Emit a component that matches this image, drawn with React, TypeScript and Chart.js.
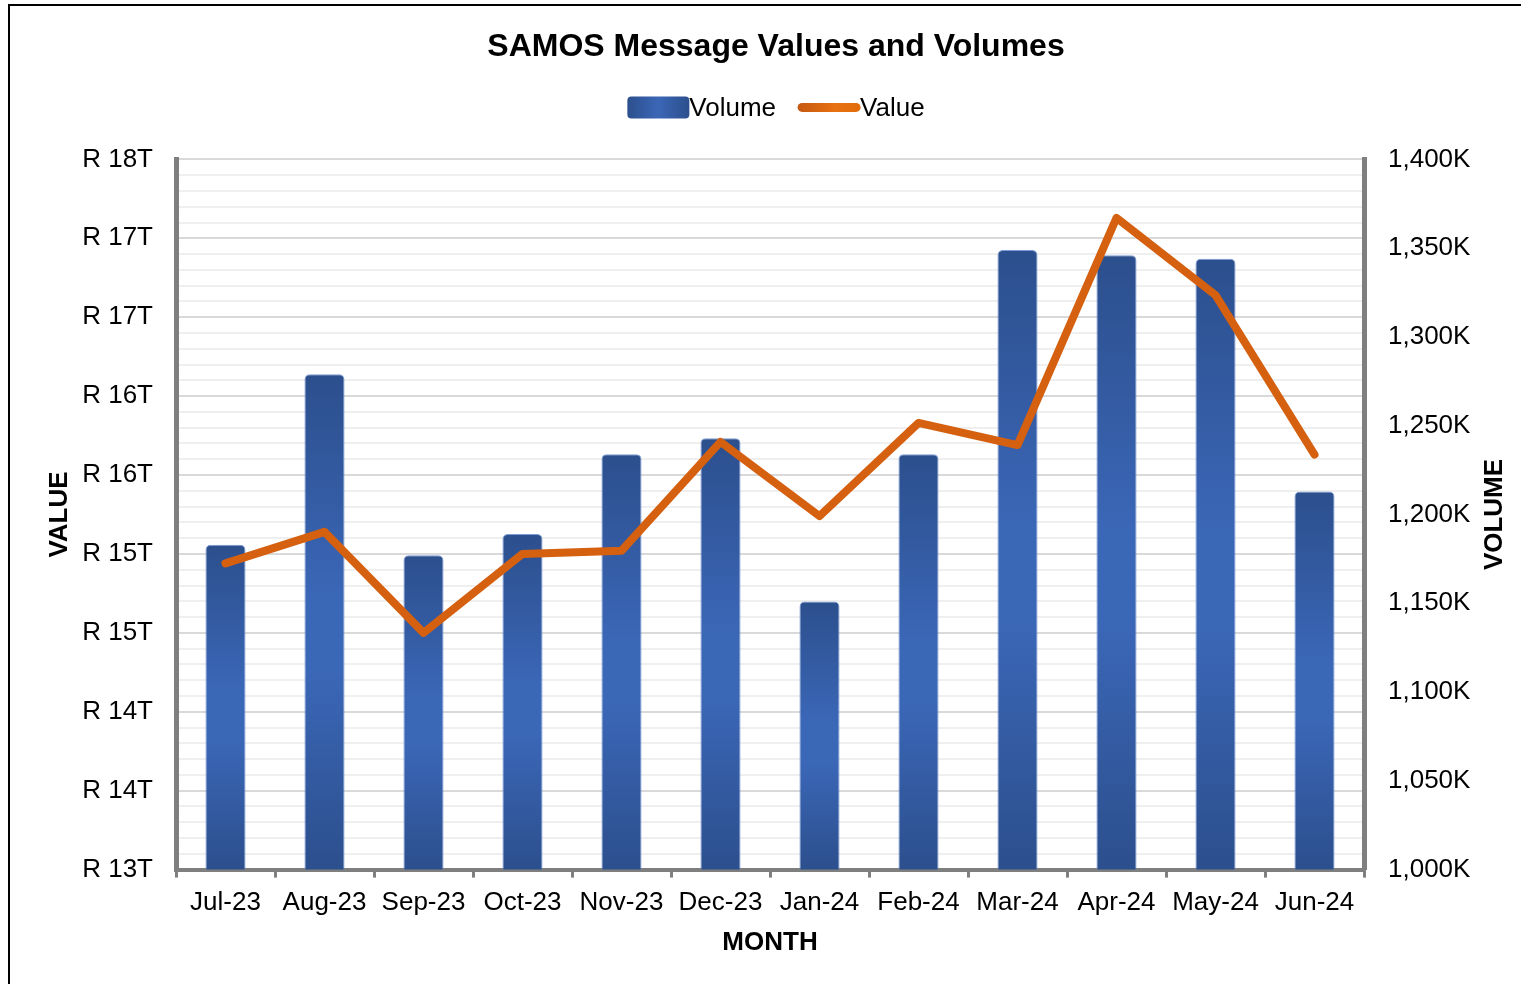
import React, { useEffect, useRef } from 'react';
import { Chart, registerables } from 'chart.js';

Chart.register(...registerables);

const FONT = "'Liberation Sans', Arial, Helvetica, sans-serif";

const months = ['Jul-23', 'Aug-23', 'Sep-23', 'Oct-23', 'Nov-23', 'Dec-23', 'Jan-24', 'Feb-24', 'Mar-24', 'Apr-24', 'May-24', 'Jun-24'];
// Volume in thousands of messages (right axis)
const volumeK = [1183, 1279, 1177, 1189, 1234, 1243, 1151, 1234, 1349, 1346, 1344, 1213];
// Value in trillions of Rand (left axis)
const valueT = [14.94, 15.14, 14.5, 15.0, 15.02, 15.71, 15.24, 15.83, 15.69, 17.13, 16.64, 15.63];

const valueMin = 13;
const valueMax = 17.5;
const valueStep = 0.5;
const volumeMin = 1000;
const volumeMax = 1400;
const volumeStep = 50;

const BLUE_DARK = '#2c4f8d';
const BLUE_LIGHT = '#3b67b7';

const framePlugin = {
  id: 'frame',
  beforeDraw(chart: any) {
    const c = chart.ctx;
    c.save();
    c.fillStyle = '#ffffff';
    c.fillRect(0, 0, chart.width, chart.height);
    c.strokeStyle = '#000000';
    c.lineWidth = 2;
    c.strokeRect(9, 5, chart.width + 40, chart.height + 40);
    c.restore();
  },
};

const extrasPlugin = {
  id: 'extras',
  afterDraw(chart: any) {
    const c = chart.ctx;
    const area = chart.chartArea;
    const yR = chart.scales.yR;
    c.save();
    // right axis title, reading bottom-to-top
    c.font = `bold 26px ${FONT}`;
    c.fillStyle = '#000';
    c.textAlign = 'center';
    c.textBaseline = 'middle';
    c.translate(yR.right - 17, (area.top + area.bottom) / 2);
    c.rotate(-Math.PI / 2);
    c.fillText('VOLUME', 0, 0);
    c.restore();

    // custom legend
    c.save();
    c.font = `26px ${FONT}`;
    c.textBaseline = 'middle';
    c.textAlign = 'left';
    const boxW = 62;
    const gap = 22;
    const wVol = c.measureText('Volume').width;
    const wVal = c.measureText('Value').width;
    const total = boxW + wVol + gap + boxW + wVal;
    const tb = chart.titleBlock;
    const cx = (tb.left + tb.right) / 2;
    const cy = area.top - 52;
    let x = cx - total / 2;
    // blue box
    const g1 = c.createLinearGradient(x, 0, x + boxW, 0);
    g1.addColorStop(0, BLUE_DARK);
    g1.addColorStop(0.5, BLUE_LIGHT);
    g1.addColorStop(1, BLUE_DARK);
    c.fillStyle = g1;
    c.beginPath();
    (c as any).roundRect(x, cy - 11, boxW, 22, 4);
    c.fill();
    x += boxW;
    c.fillStyle = '#000';
    c.fillText('Volume', x, cy + 1);
    x += wVol + gap;
    // orange line
    const g2 = c.createLinearGradient(x, 0, x + boxW, 0);
    g2.addColorStop(0, '#c55a11');
    g2.addColorStop(0.6, '#e8700f');
    g2.addColorStop(1, '#e36c0a');
    c.strokeStyle = g2;
    c.lineWidth = 9;
    c.lineCap = 'round';
    c.beginPath();
    c.moveTo(x + 4, cy);
    c.lineTo(x + boxW - 4, cy);
    c.stroke();
    x += boxW;
    c.fillStyle = '#000';
    c.fillText('Value', x, cy + 1);
    c.restore();
  },
};

function barGradient(ctx: any) {
  const chart = ctx.chart;
  const yR = chart.scales?.yR;
  if (!yR || ctx.raw === undefined) return BLUE_LIGHT;
  const top = yR.getPixelForValue(ctx.raw);
  const bottom = yR.getPixelForValue(volumeMin);
  if (!isFinite(top) || !isFinite(bottom) || bottom - top < 1) return BLUE_LIGHT;
  const g = chart.ctx.createLinearGradient(0, top, 0, bottom);
  g.addColorStop(0, BLUE_DARK);
  g.addColorStop(0.45, BLUE_LIGHT);
  g.addColorStop(0.6, BLUE_LIGHT);
  g.addColorStop(1, BLUE_DARK);
  return g;
}

export default function App() {
  const ref = useRef<HTMLCanvasElement | null>(null);

  useEffect(() => {
    document.body.style.margin = '0';
    document.body.style.overflow = 'hidden';
    if (!ref.current) return;
    const chart = new Chart(ref.current, {
      type: 'bar',
      data: {
        labels: months,
        datasets: [
          {
            type: 'line',
            label: 'Value',
            data: valueT,
            yAxisID: 'yL',
            borderColor: '#d5600f',
            borderWidth: 8,
            borderJoinStyle: 'round',
            borderCapStyle: 'round',
            pointRadius: 0,
            tension: 0,
            order: 0,
          } as any,
          {
            type: 'bar',
            label: 'Volume',
            data: volumeK,
            yAxisID: 'yR',
            backgroundColor: barGradient,
            borderColor: 'rgba(110,145,210,0.9)',
            borderWidth: 1,
            borderRadius: 5,
            barPercentage: 0.405,
            categoryPercentage: 1,
            order: 1,
          } as any,
        ],
      },
      options: {
        responsive: false,
        animation: false,
        layout: { padding: { left: 40, right: 9, top: 0, bottom: 10 } },
        plugins: {
          legend: { display: false },
          tooltip: { enabled: false },
          title: {
            display: true,
            text: 'SAMOS Message Values and Volumes',
            color: '#000',
            font: { family: FONT, size: 32, weight: 'bold' },
            padding: { top: 28, bottom: 93 },
          },
        },
        scales: {
          x: {
            type: 'category',
            offset: true,
            grid: {
              offset: true,
              drawOnChartArea: false,
              drawTicks: true,
              tickLength: 8,
              color: '#7f7f7f',
              lineWidth: 3,
            },
            border: { display: true, color: '#7f7f7f', width: 4 },
            ticks: {
              color: '#000',
              font: { family: FONT, size: 26 },
              padding: 10,
              maxRotation: 0,
              autoSkip: false,
            },
            title: {
              display: true,
              text: 'MONTH',
              color: '#000',
              font: { family: FONT, size: 26, weight: 'bold' },
              padding: { top: -2, bottom: 16 },
            },
          },
          yMinor: {
            type: 'linear',
            position: 'left',
            min: 0,
            max: ((valueMax - valueMin) / valueStep) * 5,
            z: -1,
            ticks: { display: false, stepSize: 1 },
            grid: { color: '#efefef', lineWidth: 2, drawTicks: false },
            border: { display: false },
            afterFit(s: any) { s.width = 0; },
          } as any,
          yL: {
            type: 'linear',
            position: 'left',
            min: valueMin,
            max: valueMax,
            ticks: {
              stepSize: valueStep,
              color: '#000',
              font: { family: FONT, size: 26 },
              padding: 23,
              callback: (v: any) => `R ${Math.round(Number(v))}T`,
            },
            grid: { color: '#d9d9d9', lineWidth: 2, drawTicks: false },
            border: { display: true, color: '#7f7f7f', width: 5 },
            title: {
              display: true,
              text: 'VALUE',
              color: '#000',
              font: { family: FONT, size: 26, weight: 'bold' },
              padding: 4,
            },
            afterFit(s: any) { s.width = 136; },
          } as any,
          yR: {
            type: 'linear',
            position: 'right',
            min: volumeMin,
            max: volumeMax,
            ticks: {
              stepSize: volumeStep,
              color: '#000',
              font: { family: FONT, size: 26 },
              padding: 24,
              callback: (v: any) => `${Number(v).toLocaleString('en-US')}K`,
            },
            grid: { drawOnChartArea: false, drawTicks: false },
            border: { display: true, color: '#7f7f7f', width: 5 },
            afterFit(s: any) { s.width = 148; },
          } as any,
        },
      },
      plugins: [framePlugin, extrasPlugin],
    });
    return () => chart.destroy();
  }, []);

  return (
    <div style={{ width: 1521, height: 984, position: 'relative' }}>
      <canvas ref={ref} width={1521} height={984} style={{ display: 'block' }} />
    </div>
  );
}
